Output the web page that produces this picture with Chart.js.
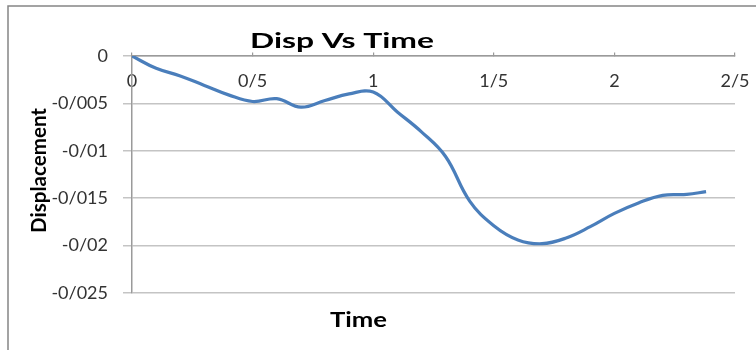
<!DOCTYPE html>
<html>
<head>
<meta charset="utf-8">
<script src="https://cdn.jsdelivr.net/npm/chart.js@4.4.1/dist/chart.umd.min.js"></script>
<style>
  html, body { margin: 0; padding: 0; background: #fff; }
  #wrap { position: relative; width: 756px; height: 350px; }
  canvas { display: block; }
</style>
</head>
<body>
<div id="wrap"><canvas id="c" width="756" height="350"></canvas></div>
<script>
// Time samples (s) and displacement readings
const times = [0, 0.1, 0.2, 0.3, 0.4, 0.5, 0.6, 0.7, 0.8, 0.9, 1.0, 1.1, 1.2, 1.3, 1.4, 1.5, 1.6, 1.7, 1.8, 1.9, 2.0, 2.1, 2.2, 2.3, 2.38];
const displacement = [0, -0.0013, -0.0021, -0.0031, -0.0041, -0.0048, -0.0045, -0.0054, -0.0047, -0.0040, -0.0038, -0.0059, -0.0080, -0.0106, -0.0153, -0.0179, -0.0194, -0.0198, -0.0192, -0.0180, -0.0166, -0.0155, -0.0147, -0.0146, -0.0143];

// Axis tick values (labels use "/" as the decimal separator)
const xTicks = [0, 0.5, 1, 1.5, 2, 2.5];
const yTicks = [0, -0.005, -0.01, -0.015, -0.02, -0.025];

const chartTitle = 'Disp Vs Time';
const xTitle = 'Time';
const yTitle = 'Displacement';

const FONT = 'Lato, "Open Sans", sans-serif';

function fmt(v) {
  if (v === 0) return '0';
  const s = String(Math.round(v * 1000) / 1000);
  return s.replace('.', '/');
}

const points = times.map((t, i) => ({ x: t, y: displacement[i] }));

// Draws text centred on (cx, baseline), stretched along its run to a given length
function fittedText(ctx, text, cx, baseline, font, runLength) {
  ctx.font = font;
  const w = ctx.measureText(text).width;
  const sx = runLength / w;
  ctx.save();
  ctx.translate(cx, baseline);
  ctx.scale(sx, 1);
  ctx.textAlign = 'center';
  ctx.textBaseline = 'alphabetic';
  ctx.fillText(text, 0, 0);
  ctx.restore();
}

// Frame lines and text titles drawn around the plot
const decor = {
  id: 'decor',
  beforeDraw(chart) {
    const ctx = chart.ctx;
    ctx.save();
    ctx.strokeStyle = '#858585';
    ctx.lineWidth = 1.5;
    ctx.beginPath();
    ctx.moveTo(8, 350);
    ctx.lineTo(8, 6);
    ctx.lineTo(756, 6);
    ctx.stroke();
    ctx.restore();
  },
  afterDraw(chart) {
    const ctx = chart.ctx;
    ctx.save();
    ctx.fillStyle = '#000';
    fittedText(ctx, chartTitle, 342, 48, 'bold 21px ' + FONT, 184);
    fittedText(ctx, xTitle, 358.5, 327, 'bold 20px ' + FONT, 57);
    ctx.translate(46, 170.5);
    ctx.rotate(-Math.PI / 2);
    fittedText(ctx, yTitle, 0, 0, 'bold 20px ' + FONT, 125);
    ctx.restore();
  }
};

new Chart(document.getElementById('c'), {
  type: 'line',
  data: {
    datasets: [{
      data: points,
      borderColor: '#4a7ebb',
      borderWidth: 3.2,
      pointRadius: 0,
      tension: 0.4,
      fill: false
    }]
  },
  options: {
    responsive: false,
    animation: false,
    layout: { padding: { left: 0, top: 56, right: 21, bottom: 57 } },
    plugins: { legend: { display: false }, title: { display: false }, tooltip: { enabled: false } },
    scales: {
      x: {
        type: 'linear',
        position: { y: 0 },
        min: 0,
        max: 2.5,
        afterBuildTicks(scale) { scale.ticks = xTicks.map(v => ({ value: v })); },
        afterFit(scale) { scale.paddingLeft = 0; scale.paddingRight = 0; },
        ticks: {
          callback: (v) => fmt(v),
          color: '#333',
          font: { family: FONT, size: 18 },
          padding: 18,
          maxRotation: 0,
          autoSkip: false
        },
        grid: { drawOnChartArea: false, drawTicks: true, tickLength: -4, color: '#999', lineWidth: 1.2 },
        border: { display: true, color: '#9a9a9a', width: 1.5 }
      },
      y: {
        type: 'linear',
        position: 'left',
        min: -0.025,
        max: 0,
        afterBuildTicks(scale) { scale.ticks = yTicks.map(v => ({ value: v })); },
        afterFit(scale) { scale.width = 132; },
        ticks: {
          callback: (v) => fmt(v),
          color: '#333',
          font: { family: FONT, size: 18 },
          padding: 15,
          autoSkip: false
        },
        grid: { color: '#c4c4c4', lineWidth: 1.5, tickLength: 9, drawTicks: true },
        border: { display: true, color: '#9a9a9a', width: 1.5 }
      }
    }
  },
  plugins: [decor]
});
</script>
</body>
</html>
